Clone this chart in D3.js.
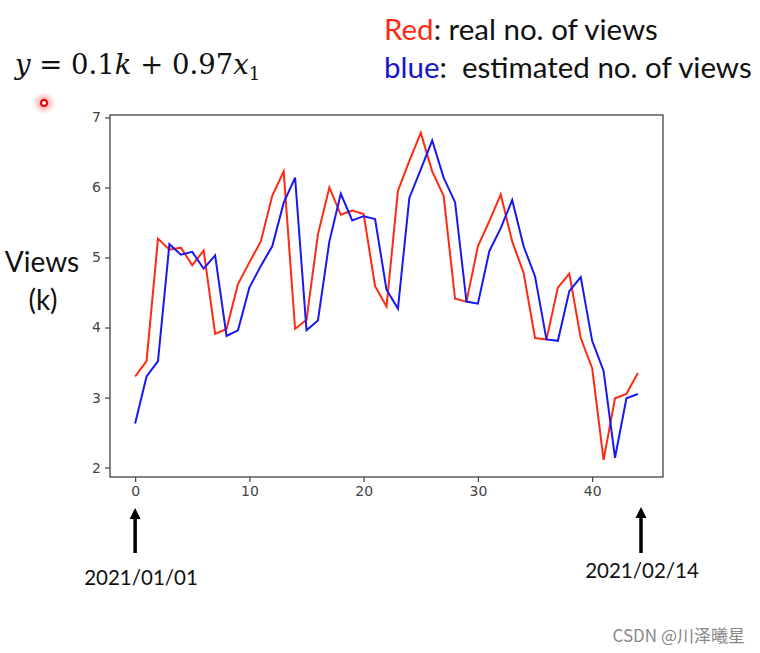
<!DOCTYPE html>
<html>
<head>
<meta charset="utf-8">
<script src="https://cdn.jsdelivr.net/npm/d3@7"></script>
<style>
  body { margin: 0; background: #fff; }
  svg { display: block; }
</style>
</head>
<body>
<svg width="760" height="653"></svg>
<script>
// day index 0..44
const days = d3.range(0, 45);
// real no. of views (k)
const realViews = [3.30, 3.52, 5.27, 5.11, 5.14, 4.89, 5.10, 3.91, 3.98, 4.62,
  4.93, 5.23, 5.88, 6.23, 3.98, 4.11, 5.33, 6.00, 5.61, 5.67,
  5.62, 4.59, 4.30, 5.95, 6.38, 6.78, 6.23, 5.88, 4.41, 4.37,
  5.16, 5.52, 5.90, 5.23, 4.78, 3.85, 3.83, 4.57, 4.77, 3.85,
  3.42, 2.11, 2.99, 3.05, 3.35];
// estimated no. of views (k)
const estViews = [2.63, 3.30, 3.52, 5.19, 5.04, 5.08, 4.84, 5.03, 3.88, 3.96,
  4.57, 4.88, 5.16, 5.78, 6.14, 3.96, 4.10, 5.23, 5.91, 5.53,
  5.59, 5.55, 4.54, 4.27, 5.85, 6.26, 6.67, 6.14, 5.79, 4.37,
  4.34, 5.09, 5.42, 5.82, 5.16, 4.73, 3.83, 3.81, 4.52, 4.72,
  3.81, 3.38, 2.14, 2.99, 3.05];
const xTicks = [0, 10, 20, 30, 40];
const yTicks = [2, 3, 4, 5, 6, 7];
const dateLabels = ["2021/01/01", "2021/02/14"];

const svg = d3.select("svg");

// plot box
const box = { left: 110, right: 663, top: 115, bottom: 477 };

const x = d3.scaleLinear().domain([-2.2, 46.2]).range([box.left, box.right]);
const y = d3.scaleLinear().domain([1.865, 7.035]).range([box.bottom, box.top]);

const chart = svg.append("g");

// frame
chart.append("rect")
  .attr("x", box.left).attr("y", box.top)
  .attr("width", box.right - box.left).attr("height", box.bottom - box.top)
  .attr("fill", "none").attr("stroke", "#444").attr("stroke-width", 1.3);

// axes
const xAxis = d3.axisBottom(x).tickValues(xTicks).tickFormat(d3.format("d")).tickSize(5).tickPadding(4);
const yAxis = d3.axisLeft(y).tickValues(yTicks).tickFormat(d3.format("d")).tickSize(5).tickPadding(4);

const gx = chart.append("g")
  .attr("transform", `translate(0, ${box.bottom})`)
  .call(xAxis);
const gy = chart.append("g")
  .attr("transform", `translate(${box.left}, 0)`)
  .call(yAxis);

[gx, gy].forEach(g => {
  g.select(".domain").remove();
  g.selectAll("line").attr("stroke", "#444").attr("stroke-width", 1.2);
  g.selectAll("text")
    .attr("font-family", "DejaVu Sans")
    .attr("font-size", 14)
    .attr("fill", "#444");
});

// lines
const line = d3.line()
  .x((d, i) => x(days[i]))
  .y(d => y(d));

chart.append("path")
  .datum(realViews)
  .attr("fill", "none")
  .attr("stroke", "#ff2a12")
  .attr("stroke-width", 2)
  .attr("d", line);

chart.append("path")
  .datum(estViews)
  .attr("fill", "none")
  .attr("stroke", "#1818f0")
  .attr("stroke-width", 2)
  .attr("d", line);

// y label
svg.append("text")
  .attr("x", 42).attr("y", 272)
  .attr("text-anchor", "middle")
  .attr("font-family", "Lato").attr("font-size", 28).attr("fill", "#111")
  .text("Views");
svg.append("text")
  .attr("x", 43).attr("y", 310)
  .attr("text-anchor", "middle")
  .attr("font-family", "Lato").attr("font-size", 28).attr("fill", "#111")
  .text("(k)");

// formula
const formula = svg.append("text")
  .attr("x", 15).attr("y", 74)
  .attr("font-family", "DejaVu Serif").attr("font-size", 27.5).attr("fill", "#111");
formula.append("tspan").attr("font-style", "italic").text("y");
formula.append("tspan").text(" = 0.1");
formula.append("tspan").attr("font-style", "italic").text("k");
formula.append("tspan").text(" + 0.97");
formula.append("tspan").attr("font-style", "italic").text("x");
formula.append("tspan").attr("font-size", 18).attr("dy", 6).text("1");

// red pointer dot
const defs = svg.append("defs");
const glow = defs.append("radialGradient").attr("id", "glow");
glow.append("stop").attr("offset", "0%").attr("stop-color", "#ff4040").attr("stop-opacity", 0.6);
glow.append("stop").attr("offset", "100%").attr("stop-color", "#ff4040").attr("stop-opacity", 0);
svg.append("circle").attr("cx", 44).attr("cy", 103).attr("r", 11).attr("fill", "url(#glow)");
svg.append("circle").attr("cx", 44).attr("cy", 103).attr("r", 3)
  .attr("fill", "#fff").attr("stroke", "#e00").attr("stroke-width", 2);

// legend text
const leg1 = svg.append("text")
  .attr("x", 384).attr("y", 40)
  .attr("font-family", "Lato").attr("font-size", 29.5).attr("fill", "#111");
leg1.append("tspan").attr("fill", "#ff2a12").text("Red");
leg1.append("tspan").text(": real no. of views");
const leg2 = svg.append("text")
  .attr("x", 384).attr("y", 78)
  .attr("font-family", "Lato").attr("font-size", 29.5).attr("fill", "#111");
leg2.append("tspan").attr("fill", "#1515d0").text("blue");
leg2.append("tspan").text(":\u00a0 estimated no. of views");

// date arrows
const arrowX = [x(days[0]), 641];
const arrowTip = [508, 507];
const labelX = [141, 642];
const labelY = [585, 578];
dateLabels.forEach((lab, i) => {
  svg.append("line")
    .attr("x1", arrowX[i]).attr("x2", arrowX[i])
    .attr("y1", 553).attr("y2", arrowTip[i] + 8)
    .attr("stroke", "#000").attr("stroke-width", 3.5);
  svg.append("path")
    .attr("d", `M${arrowX[i]},${arrowTip[i]} L${arrowX[i] + 5.5},${arrowTip[i] + 11} L${arrowX[i] - 5.5},${arrowTip[i] + 11} Z`)
    .attr("fill", "#000");
  svg.append("text")
    .attr("x", labelX[i]).attr("y", labelY[i])
    .attr("text-anchor", "middle")
    .attr("font-family", "Lato").attr("font-size", 20.5).attr("fill", "#111")
    .text(lab);
});

// watermark
svg.append("text")
  .attr("x", 745).attr("y", 642)
  .attr("text-anchor", "end")
  .attr("font-family", "Noto Sans CJK SC").attr("font-size", 17).attr("fill", "#888")
  .text("CSDN @川泽曦星");
</script>
</body>
</html>
